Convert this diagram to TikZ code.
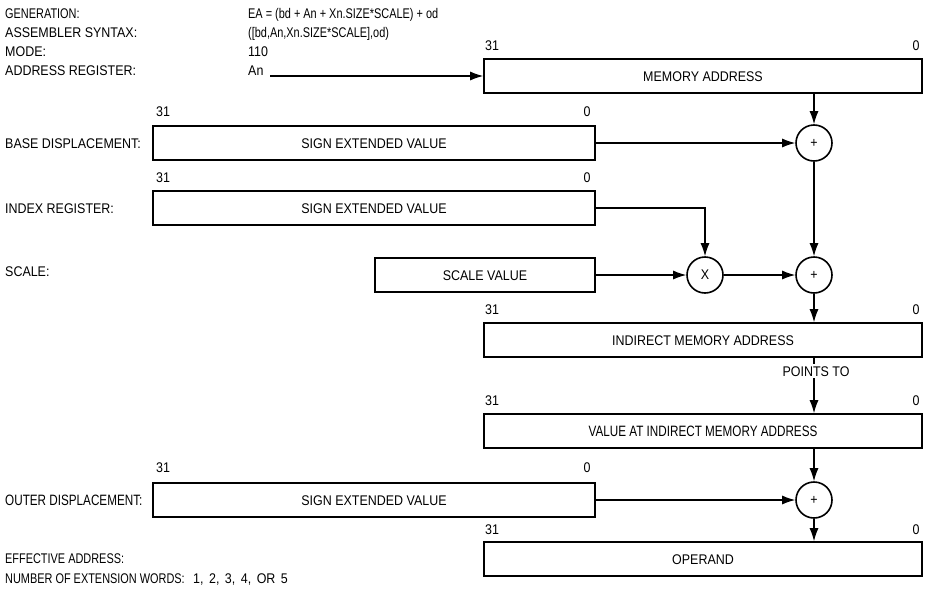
\documentclass[tikz,border=0pt]{standalone}
\usepackage{fontspec}
\setmainfont{Liberation Sans}[FakeStretch=0.89]
\newfontfamily\narrowfont{Liberation Sans}[FakeStretch=0.78]
\usetikzlibrary{arrows.meta}
\newcommand\dfont{\fontsize{14}{16}\selectfont}
\newcommand\nfont{\narrowfont\fontsize{14}{16}\selectfont}
\newcommand\vfont{\narrowfont\fontsize{15}{17}\selectfont}
\begin{document}
\begin{tikzpicture}[x=1pt,y=-1pt,
  txt/.style={inner sep=0pt,font=\dfont,text height=10pt,text depth=0pt},
  lbl/.style={txt,anchor=west},
  nlbl/.style={lbl,font=\nfont},
  box/.style={txt,draw,line width=1.6pt,rectangle,minimum height=34pt,align=center},
  wide/.style={box,minimum width=438pt},
  reg/.style={box,minimum width=442pt},
  op/.style={draw,line width=1.6pt,circle,minimum size=36pt,inner sep=0pt,font=\dfont},
  conn/.style={line width=1.2pt,-{Latex[length=13pt,width=9pt]}},
  ]
\useasboundingbox (0,0) rectangle (925,589);
% header text
\node[nlbl] (g1) at (5,13) {GENERATION:};
\node[lbl] (g2) at (5,32) {ASSEMBLER SYNTAX:};
\node[lbl] (g3) at (5,51) {MODE:};
\node[lbl] (g4) at (5,70) {ADDRESS REGISTER:};
\node[nlbl] (v1) at (248,13) {EA = (bd + An + Xn.SIZE*SCALE) + od};
\node[nlbl] (v2) at (248,32) {([bd,An,Xn.SIZE*SCALE],od)};
\node[lbl] (v3) at (248,51) {110};
\node[lbl] (v4) at (248,70) {An};
% boxes
\node[wide] (ma) at (703,76) {MEMORY ADDRESS};
\node[reg] (bd) at (374,143) {SIGN EXTENDED VALUE};
\node[reg] (ix) at (374,208) {SIGN EXTENDED VALUE};
\node[box,minimum width=220pt] (sc) at (485,275) {SCALE VALUE};
\node[wide] (ind) at (703,340) {INDIRECT MEMORY ADDRESS};
\node[wide,font=\vfont] (val) at (703,431) {VALUE AT INDIRECT MEMORY ADDRESS};
\node[reg] (od) at (374,500) {SIGN EXTENDED VALUE};
\node[wide] (opd) at (703,559) {OPERAND};
% operators
\node[op] (p1) at (814,143) {+};
\node[op] (xm) at (705,275) {X};
\node[op] (p2) at (814,275) {+};
\node[op] (p3) at (814,500) {+};
% left labels
\node[lbl] (l1) at (5,143) {BASE DISPLACEMENT:};
\node[lbl] (l2) at (5,208) {INDEX REGISTER:};
\node[lbl] (l3) at (5,271) {SCALE:};
\node[lbl,font=\vfont] (l4) at (5,500) {OUTER DISPLACEMENT:};
\node[nlbl] (l5) at (5,558) {EFFECTIVE ADDRESS:};
\node[nlbl] (l6) at (5,578) {NUMBER OF EXTENSION WORDS:};
\node[lbl] (l7) at (193,578) {\spaceskip=5.5pt 1, 2, 3, 4, OR 5};
% bit numbers
\node[txt] (a31) at (492,45) {31};  \node[txt] (a0) at (916,45) {0};
\node[txt] (b31) at (163,111) {31}; \node[txt] (b0) at (587,111) {0};
\node[txt] (c31) at (163,177) {31}; \node[txt] (c0) at (587,177) {0};
\node[txt] (d31) at (492,309) {31}; \node[txt] (d0) at (916,309) {0};
\node[txt] (e31) at (492,400) {31}; \node[txt] (e0) at (916,400) {0};
\node[txt] (f31) at (163,467) {31}; \node[txt] (f0) at (587,467) {0};
\node[txt] (h31) at (492,529) {31}; \node[txt] (h0) at (916,529) {0};
% connectors
\coordinate (anstart) at (270,76);
\draw[conn] (anstart) -- (ma.west);
\draw[conn] (ma.south -| p1) -- (p1.north);
\draw[conn] (bd.east) -- (p1.west);
\draw[conn] (ix.east) -| (xm.north);
\draw[conn] (sc.east) -- (xm.west);
\draw[conn] (xm.east) -- (p2.west);
\draw[conn] (p1.south) -- (p2.north);
\draw[conn] (p2.south) -- (p2.south |- ind.north);
\draw[conn] (ind.south -| p2) -- (val.north -| p2);
\node[txt,fill=white,inner sep=2pt] (pt) at (816,371) {POINTS TO};
\draw[conn] (val.south -| p3) -- (p3.north);
\draw[conn] (od.east) -- (p3.west);
\draw[conn] (p3.south) -- (opd.north -| p3);
\end{tikzpicture}
\end{document}
